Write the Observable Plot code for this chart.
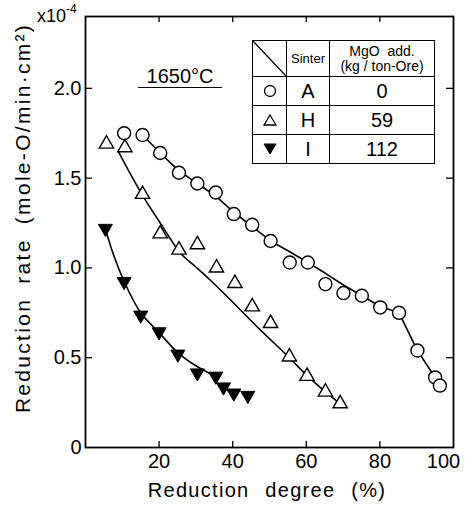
<!DOCTYPE html>
<html>
<head>
<meta charset="utf-8">
<script src="https://cdn.jsdelivr.net/npm/d3@7"></script>
<script src="https://cdn.jsdelivr.net/npm/@observablehq/plot@0.6"></script>
<style>
  html, body { margin: 0; padding: 0; background: #fff; }
  #wrap { position: relative; width: 465px; height: 509px; font-family: "Liberation Sans", Arial, sans-serif; color: #000; }
  #legend { position: absolute; left: 252px; top: 40px; border-collapse: collapse; }
  #legend td { border: 1.5px solid #000; padding: 0; text-align: center; vertical-align: middle; }
  .big { font-size: 20px; line-height: 20px; }
  .ann { position: absolute; white-space: nowrap; }
</style>
</head>
<body>
<div id="wrap"></div>
<script>
// ---- data ----
const seriesNames = ["A", "H", "I"];
const mgoAdd = ["0", "59", "112"];

// Sinter A (circles)
const degreeA = [10.5, 15.5, 20.3, 25.4, 30.4, 35.4, 40.3, 45.3, 50.3, 55.5, 60.4, 65.2, 70.1, 75.1, 80.1, 85.2, 90.2, 95.0, 96.3];
const rateA   = [1.75, 1.74, 1.64, 1.53, 1.47, 1.42, 1.30, 1.24, 1.15, 1.03, 1.03, 0.91, 0.86, 0.845, 0.78, 0.75, 0.54, 0.39, 0.345];
// Sinter H (open triangles)
const degreeH = [5.7, 10.7, 15.5, 20.3, 25.4, 30.4, 35.6, 40.6, 45.3, 50.3, 55.4, 60.2, 65.2, 69.2];
const rateH   = [1.69, 1.67, 1.41, 1.19, 1.10, 1.13, 1.00, 0.914, 0.784, 0.691, 0.505, 0.397, 0.309, 0.244];
// Sinter I (filled down triangles)
const degreeI = [5.4, 10.5, 15.0, 20.0, 25.1, 30.4, 35.4, 37.5, 40.3, 44.1];
const rateI   = [1.22, 0.924, 0.737, 0.644, 0.52, 0.415, 0.397, 0.337, 0.303, 0.29];

// fitted curves
const curveDegA = [15.5, 20.3, 25.4, 30.4, 35.4, 40.3, 45.3, 50.3, 55.5, 60.4, 65.2, 70.1, 75.1, 80.1, 85.2, 90.2, 95.0];
const curveRateA = [1.74, 1.64, 1.54, 1.47, 1.40, 1.31, 1.23, 1.15, 1.09, 1.03, 0.97, 0.905, 0.845, 0.785, 0.75, 0.54, 0.39];
const curveDegH = [8.9, 12, 15.9, 20, 25.9, 30, 34, 39.5, 47, 55.2, 60.2, 65.2, 69.2];
const curveRateH = [1.65, 1.53, 1.39, 1.26, 1.08, 1.005, 0.93, 0.82, 0.665, 0.504, 0.40, 0.31, 0.244];
const curveDegI = [5.4, 7.5, 10.5, 15, 20, 25, 30, 35.4];
const curveRateI = [1.22, 1.08, 0.925, 0.75, 0.64, 0.53, 0.455, 0.395];

const xTicks = [20, 40, 60, 80];
const xTickLast = [100];
const yTicks = [0, 0.5, 1.0, 1.5, 2.0];
const innerXTicks = [20, 40, 60, 80];
const innerYTicks = [0.5, 1.0, 1.5, 2.0];

const zip = (xs, ys) => xs.map((x, i) => ({x, y: ys[i]}));
const ptsA = zip(degreeA, rateA), ptsH = zip(degreeH, rateH), ptsI = zip(degreeI, rateI);
const lnA = zip(curveDegA, curveRateA), lnH = zip(curveDegH, curveRateH), lnI = zip(curveDegI, curveRateI);

const W = 465, H = 509;
const plot = Plot.plot({
  width: W, height: H,
  marginLeft: 85, marginRight: 12, marginTop: 16, marginBottom: 62,
  style: {fontFamily: '"Liberation Sans", Arial, sans-serif', fontSize: "20px", color: "#000", background: "transparent"},
  x: {domain: [0, 100]},
  y: {domain: [0, 2.4]},
  marks: [
    Plot.axisX(xTicks, {tickSize: 0, tickPadding: 6, label: null}),
    Plot.axisX(xTickLast, {tickSize: 0, tickPadding: 6, label: null, dx: -10}),
    Plot.axisY(yTicks, {tickSize: 0, tickPadding: 4, label: null, tickFormat: d => d === 0 ? "0" : d.toFixed(1)}),
    Plot.tickX(innerXTicks, {x: d => d, insetTop: 425, strokeWidth: 1.3}),
    Plot.tickX(innerXTicks, {x: d => d, insetBottom: 425, strokeWidth: 1.3}),
    Plot.tickY(innerYTicks, {y: d => d, insetRight: 361, strokeWidth: 1.3}),
    Plot.tickY(innerYTicks, {y: d => d, insetLeft: 361, strokeWidth: 1.3}),
    Plot.frame({stroke: "#000", strokeWidth: 1.8}),
    Plot.line(lnA, {x: "x", y: "y", stroke: "#000", strokeWidth: 1.6}),
    Plot.line(lnH, {x: "x", y: "y", stroke: "#000", strokeWidth: 1.6, curve: "catmull-rom"}),
    Plot.line(lnI, {x: "x", y: "y", stroke: "#000", strokeWidth: 1.6, curve: "catmull-rom"}),
    Plot.dot(ptsA, {x: "x", y: "y", r: 6.5, fill: "#fff", stroke: "#000", strokeWidth: 1.4}),
    Plot.dot(ptsH, {x: "x", y: "y", r: 5.3, symbol: "triangle", fill: "#fff", stroke: "#000", strokeWidth: 1.4}),
    Plot.dot(ptsI, {x: "x", y: "y", r: 6.7, symbol: "triangle2", rotate: 180, fill: "#000", stroke: "#000", strokeWidth: 1})
  ]
});
const wrap = document.getElementById("wrap");
wrap.appendChild(plot);

const svg = d3.select(plot);
svg.append("text")
  .attr("transform", "translate(22,218) rotate(-90)")
  .attr("text-anchor", "middle").attr("dominant-baseline", "central")
  .attr("font-size", 21).attr("letter-spacing", "2.3px").attr("word-spacing", "6px")
  .attr("fill", "#000")
  .text("Reduction rate (mole-O/min·cm²)");
svg.append("text")
  .attr("x", 267).attr("y", 497)
  .attr("text-anchor", "middle")
  .attr("font-size", 20).attr("letter-spacing", "1.3px").attr("word-spacing", "9px")
  .attr("fill", "#000")
  .text("Reduction degree (%)");

// x10^-4 annotation
const exp = document.createElement("div");
exp.className = "ann";
exp.style.cssText = "left:37px;top:6px;font-size:18px;";
exp.innerHTML = 'x10<span style="font-size:12px;position:relative;top:-9px;">-4</span>';
wrap.appendChild(exp);

// 1650°C annotation
const temp = document.createElement("div");
temp.className = "ann";
temp.style.cssText = "left:138px;top:66px;width:84px;text-align:center;font-size:20px;line-height:20px;border-bottom:1.5px solid #000;padding-bottom:1px;";
temp.textContent = "1650°C";
wrap.appendChild(temp);

// legend table
const sym = {
  A: '<svg width="14" height="14"><circle cx="7" cy="7" r="5.5" fill="#fff" stroke="#000" stroke-width="1.3"/></svg>',
  H: '<svg width="14" height="14"><path d="M7,2 L13,12 L1,12 Z" fill="#fff" stroke="#000" stroke-width="1.3"/></svg>',
  I: '<svg width="14" height="14"><path d="M1,2 L13,2 L7,12 Z" fill="#000" stroke="#000" stroke-width="1"/></svg>'
};
let html = '<tr style="height:36px">' +
  '<td style="width:33px;position:relative;"><svg style="position:absolute;left:0;top:0" width="100%" height="100%" viewBox="0 0 33 36" preserveAspectRatio="none"><line x1="0" y1="0" x2="33" y2="36" stroke="#000" stroke-width="1.3"/></svg></td>' +
  '<td style="width:42px;font-size:13px;">Sinter</td>' +
  '<td style="width:104px;font-size:14px;line-height:15px;">MgO&nbsp;&nbsp;add.<br>(kg / ton-Ore)</td></tr>';
seriesNames.forEach((s, i) => {
  html += `<tr style="height:29px"><td style="line-height:0">${sym[s]}</td><td class="big">${s}</td><td class="big">${mgoAdd[i]}</td></tr>`;
});
const tbl = document.createElement("table");
tbl.id = "legend";
tbl.innerHTML = html;
wrap.appendChild(tbl);
</script>
</body>
</html>
